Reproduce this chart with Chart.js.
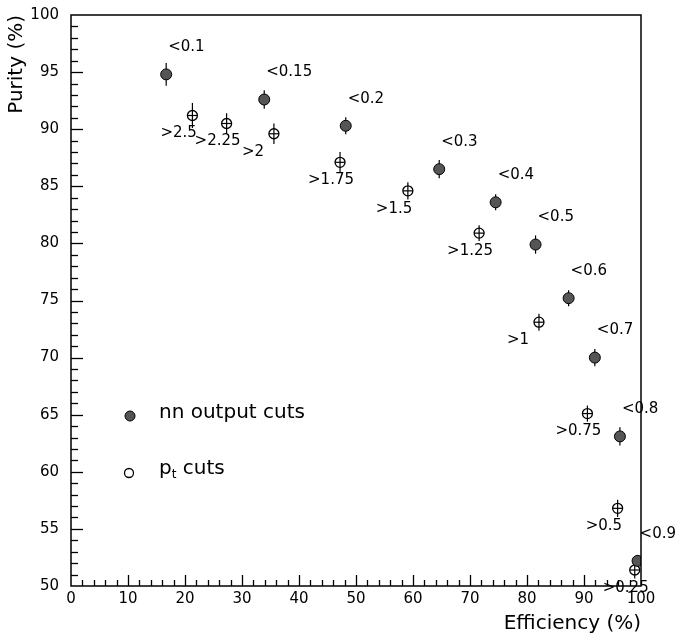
<!DOCTYPE html>
<html><head><meta charset="utf-8">
<script src="https://cdn.jsdelivr.net/npm/chart.js@4.4.1/dist/chart.umd.min.js"></script>
<style>html,body{margin:0;padding:0;background:#fff}</style>
</head><body>
<canvas id="c" width="681" height="640"></canvas>
<script>
// ---- data ----
const nnCuts = ['<0.1','<0.15','<0.2','<0.3','<0.4','<0.5','<0.6','<0.7','<0.8','<0.9'];
const nnEff  = [16.7, 33.9, 48.2, 64.6, 74.5, 81.5, 87.3, 91.9, 96.3, 99.4];
const nnPur  = [94.8, 92.6, 90.3, 86.5, 83.6, 79.9, 75.2, 70.0, 63.1, 52.2];
const nnErr  = [1.0, 0.8, 0.75, 0.8, 0.7, 0.8, 0.7, 0.75, 0.8, 0.5];

const ptCuts = ['>2.5','>2.25','>2','>1.75','>1.5','>1.25','>1','>0.75','>0.5','>0.25'];
const ptEff  = [21.3, 27.3, 35.6, 47.2, 59.1, 71.6, 82.1, 90.6, 95.9, 98.9];
const ptPur  = [91.2, 90.5, 89.6, 87.1, 84.6, 80.9, 73.1, 65.1, 56.8, 51.4];
const ptErr  = [1.1, 0.9, 0.9, 0.9, 0.75, 0.7, 0.75, 0.7, 0.75, 0.75];

const xTicks = [0,10,20,30,40,50,60,70,80,90,100];
const yTicks = [50,55,60,65,70,75,80,85,90,95,100];

const FONT = 'DejaVu Sans';

const toPts = (xs, ys) => xs.map((x,i)=>({x:x, y:ys[i]}));

// error bars + cross line for open markers, and cut labels
const errPlugin = {
  id:'err',
  beforeDatasetsDraw(chart){
    const ctx = chart.ctx, ys = chart.scales.y;
    chart.data.datasets.forEach((ds,di)=>{
      const meta = chart.getDatasetMeta(di);
      ctx.save();
      ctx.strokeStyle = '#000'; ctx.lineWidth = 1.2;
      meta.data.forEach((el,i)=>{
        const v = ds.data[i].y, e = ds.errors[i];
        ctx.beginPath();
        ctx.moveTo(el.x, ys.getPixelForValue(v+e));
        ctx.lineTo(el.x, ys.getPixelForValue(v-e));
        ctx.stroke();
        if (ds.crossLine){
          ctx.beginPath();
          ctx.moveTo(el.x-5, el.y); ctx.lineTo(el.x+5, el.y);
          ctx.stroke();
        }
      });
      ctx.restore();
    });
  },
  afterDatasetsDraw(chart){
    const ctx = chart.ctx;
    ctx.save();
    ctx.fillStyle = '#000';
    ctx.font = '15px "'+FONT+'"';
    ctx.textAlign = 'left'; ctx.textBaseline = 'middle';
    chart.data.datasets.forEach((ds,di)=>{
      const meta = chart.getDatasetMeta(di);
      meta.data.forEach((el,i)=>{
        ctx.fillText(ds.cutLabels[i], el.x + ds.labelDx, el.y + ds.labelDy);
      });
    });
    ctx.restore();
  }
};

// frame + inward ticks (major + minor)
const framePlugin = {
  id:'frame',
  afterDraw(chart){
    const ctx = chart.ctx, a = chart.chartArea, xs = chart.scales.x, ys = chart.scales.y;
    ctx.save();
    ctx.strokeStyle = '#000';
    ctx.lineWidth = 1.5;
    ctx.strokeRect(a.left, a.top, a.right-a.left, a.bottom-a.top);
    ctx.lineWidth = 1.3;
    for (let v = ys.min; v <= ys.max; v += 1){
      if (v === ys.min || v === ys.max) continue;
      const p = Math.round(ys.getPixelForValue(v)) + 0.5;
      const len = (v % 5 === 0) ? 12 : 7;
      ctx.beginPath(); ctx.moveTo(a.left, p); ctx.lineTo(a.left+len, p); ctx.stroke();
    }
    for (let v = xs.min; v <= xs.max; v += 2){
      if (v === xs.min || v === xs.max) continue;
      const p = Math.round(xs.getPixelForValue(v)) + 0.5;
      const len = (v % 10 === 0) ? 11 : 6;
      ctx.beginPath(); ctx.moveTo(p, a.bottom); ctx.lineTo(p, a.bottom-len); ctx.stroke();
    }
    ctx.restore();
  }
};

// legend drawn inside the plot
const legendPlugin = {
  id:'legendIn',
  afterDraw(chart){
    const ctx = chart.ctx;
    const ds = chart.data.datasets;
    ctx.save();
    ctx.beginPath(); ctx.arc(130, 416, 5, 0, Math.PI*2);
    ctx.fillStyle = ds[0].backgroundColor; ctx.fill();
    ctx.strokeStyle = '#000'; ctx.lineWidth = 1; ctx.stroke();
    ctx.beginPath(); ctx.arc(129, 473, 4.5, 0, Math.PI*2);
    ctx.lineWidth = 1.3; ctx.stroke();
    ctx.fillStyle = '#000';
    ctx.textAlign = 'left'; ctx.textBaseline = 'alphabetic';
    ctx.font = '20px "'+FONT+'"';
    ctx.fillText(ds[0].label, 159, 418);
    ctx.fillText('p', 159, 474);
    const pw = ctx.measureText('p').width;
    ctx.font = '12px "'+FONT+'"';
    ctx.fillText('t', 159+pw, 478);
    const tw = ctx.measureText('t').width;
    ctx.font = '20px "'+FONT+'"';
    ctx.fillText(' cuts', 159+pw+tw, 474);
    ctx.restore();
  }
};

new Chart(document.getElementById('c'), {
  type:'scatter',
  data:{
    datasets:[
      {
        label:'nn output cuts',
        data: toPts(nnEff, nnPur),
        errors: nnErr, cutLabels: nnCuts,
        labelDx: 2, labelDy: -27,
        backgroundColor:'#555', borderColor:'#000', borderWidth:1,
        pointRadius:5.5, pointHoverRadius:5.5
      },
      {
        label:'pt cuts',
        data: toPts(ptEff, ptPur),
        errors: ptErr, cutLabels: ptCuts, crossLine:true,
        labelDx: -32, labelDy: 18,
        backgroundColor:'rgba(0,0,0,0)', borderColor:'#000', borderWidth:1.3,
        pointRadius:5, pointHoverRadius:5
      }
    ]
  },
  options:{
    responsive:false, animation:false, devicePixelRatio:1,
    layout:{padding:{left:0, top:15, right:40, bottom:0}},
    plugins:{legend:{display:false}, tooltip:{enabled:false}},
    scales:{
      x:{
        type:'linear', min:0, max:100,
        afterBuildTicks: s => { s.ticks = xTicks.map(v=>({value:v})); },
        afterFit: s => { s.height = 54; s.paddingLeft = 0; s.paddingRight = 0; },
        grid:{display:false, drawTicks:false},
        border:{display:false},
        ticks:{font:{family:FONT, size:15}, color:'#000', padding:4, maxRotation:0, autoSkip:false},
        title:{display:true, text:'Efficiency (%)', align:'end', color:'#000',
               font:{family:FONT, size:20}, padding:{top:0, bottom:4}}
      },
      y:{
        type:'linear', min:50, max:100,
        afterBuildTicks: s => { s.ticks = yTicks.map(v=>({value:v})); },
        afterFit: s => { s.width = 71; s.paddingTop = 0; s.paddingBottom = 0; },
        grid:{display:false, drawTicks:false},
        border:{display:false},
        ticks:{font:{family:FONT, size:15}, color:'#000', padding:12, autoSkip:false},
        title:{display:true, text:'Purity (%)', align:'end', color:'#000',
               font:{family:FONT, size:20}, padding:{top:5, bottom:0}}
      }
    }
  },
  plugins:[errPlugin, framePlugin, legendPlugin]
});
</script>
</body></html>
